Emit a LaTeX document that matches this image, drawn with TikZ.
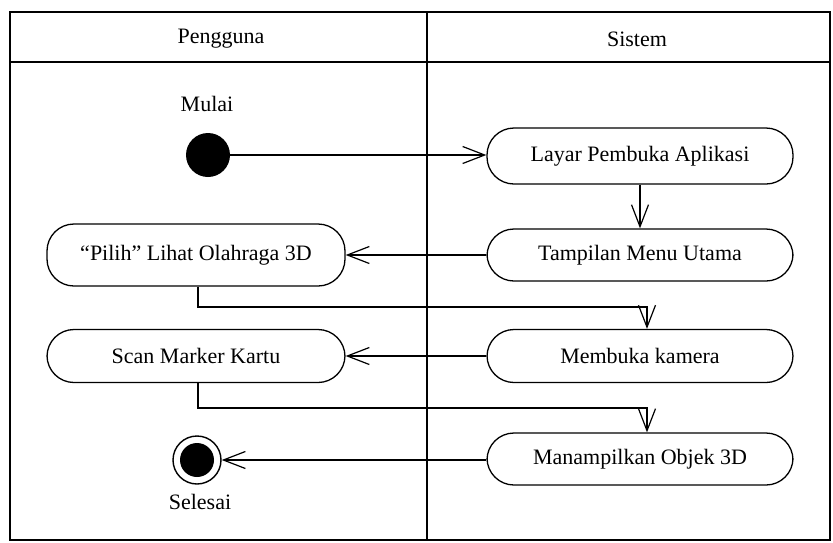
\documentclass[tikz,border=0pt]{standalone}
\usepackage{fontspec}
\setmainfont{Liberation Serif}
\usetikzlibrary{arrows.meta}
\begin{document}
\begin{tikzpicture}[x=1pt,y=-1pt,
  lane/.style={line width=1.6pt},
  act/.style={draw, line width=1.3pt, rounded corners=27pt, minimum height=56pt,
    inner sep=0pt, font=\fontsize{22}{26}\selectfont},
  sysact/.style={act, minimum width=306pt},
  useract/.style={act, minimum width=298pt},
  flow/.style={line width=1.2pt, -{Straight Barb[length=22pt,width=17pt,line width=1.2pt]}},
  lbl/.style={font=\fontsize{22}{26}\selectfont}]
\useasboundingbox (0,0) rectangle (833,542);
\fill[white] (0,0) rectangle (833,542);

% swimlane frame
\draw[lane] (10,12) rectangle (830,540);
\draw[lane] (10,62) -- (830,62);
\draw[line width=2.2pt] (427,12) -- (427,540);
\node[lbl] (hU) at (221,39) {Pengguna};
\node[lbl] (hS) at (637,39) {Sistem};

% start and end
\node[circle, fill=black, minimum size=44pt, inner sep=0pt] (start) at (208,155) {};
\node[lbl] (mulai) at (207,104) {Mulai};
\node[circle, draw, line width=1.4pt, minimum size=48pt, inner sep=0pt] (end) at (197,460) {};
\fill (end.center) circle (17pt);
\node[lbl] (selesai) at (200,502) {Selesai};

% activities
\node[sysact] (layar) at (640,156) {Layar Pembuka Aplikasi};
\node[sysact, minimum height=52pt] (menu) at (640,255) {Tampilan Menu Utama};
\node[useract, minimum height=62pt] (pilih) at (196,255) {``Pilih'' Lihat Olahraga 3D};
\node[useract, minimum height=53pt] (scan) at (196,356) {Scan Marker Kartu};
\node[sysact, minimum height=53pt] (kamera) at (640,356) {Membuka kamera};
\node[sysact, minimum height=52pt] (objek) at (640,459) {Manampilkan Objek 3D};

% control flow
\coordinate (k1) at (647,307);
\coordinate (k2) at (647,408);
\draw[flow] (start) -- (layar.west |- start);
\draw[flow] (layar) -- (menu);
\draw[flow] (menu) -- (pilih);
\draw[flow] ([xshift=2pt]pilih.south) |- (k1) -- (kamera.north -| k1);
\draw[flow] (kamera) -- (scan);
\draw[flow] ([xshift=2pt]scan.south) |- (k2) -- (objek.north -| k2);
\draw[flow] (objek.west |- end) -- (end);
\end{tikzpicture}
\end{document}
